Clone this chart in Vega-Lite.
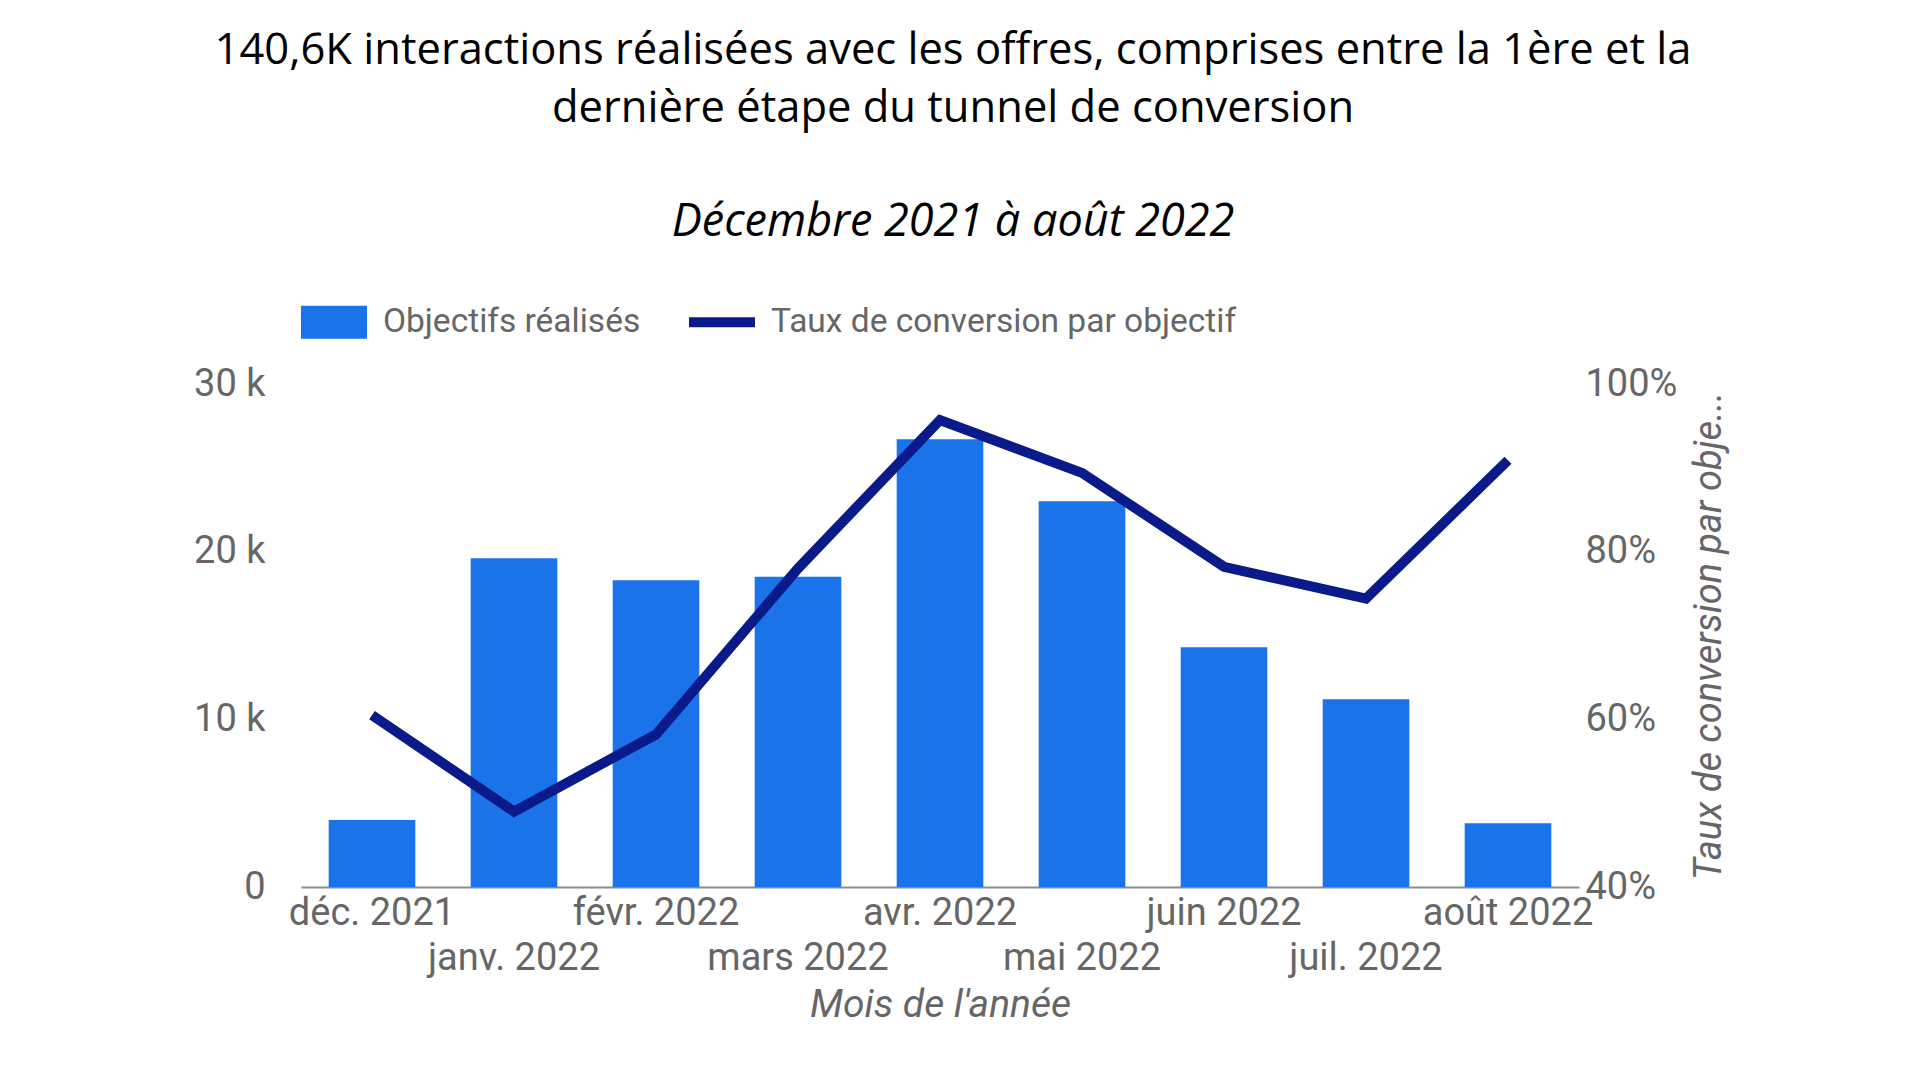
{
  "$schema": "https://vega.github.io/schema/vega-lite/v6.json",
  "width": 1278,
  "height": 503,
  "autosize": {"type": "none"},
  "padding": {"left": 301, "top": 384, "right": 341, "bottom": 193},
  "background": "white",
  "title": {
    "text": ["140,6K interactions réalisées avec les offres, comprises entre la 1ère et la", "dernière étape du tunnel de conversion"],
    "subtitle": "Décembre 2021 à août 2022",
    "frame": "group",
    "anchor": "middle",
    "dx": 13,
    "font": "Open Sans",
    "fontSize": 43.5,
    "fontWeight": "normal",
    "lineHeight": 58,
    "color": "#000000",
    "subtitleFont": "Open Sans",
    "subtitleFontSize": 45,
    "subtitleFontStyle": "italic",
    "subtitleColor": "#000000",
    "subtitlePadding": 69,
    "offset": 43
  },
  "data": {
    "values": [
      {"mois": "déc. 2021", "objectifs": 4000, "taux": 0.605},
      {"mois": "janv. 2022", "objectifs": 19600, "taux": 0.490},
      {"mois": "févr. 2022", "objectifs": 18300, "taux": 0.582},
      {"mois": "mars 2022", "objectifs": 18500, "taux": 0.780},
      {"mois": "avr. 2022", "objectifs": 26700, "taux": 0.957},
      {"mois": "mai 2022", "objectifs": 23000, "taux": 0.894},
      {"mois": "juin 2022", "objectifs": 14300, "taux": 0.782},
      {"mois": "juil. 2022", "objectifs": 11200, "taux": 0.744},
      {"mois": "août 2022", "objectifs": 3800, "taux": 0.909}
    ]
  },
  "encoding": {
    "x": {
      "field": "mois",
      "type": "ordinal",
      "sort": null,
      "scale": {"paddingInner": 0.39, "paddingOuter": 0.195},
      "axis": {
        "title": "Mois de l'année",
        "titleFont": "Roboto",
        "titleFontSize": 39,
        "titleFontStyle": "italic",
        "titleFontWeight": "normal",
        "titleColor": "#666666",
        "titlePadding": 8,
        "labelAngle": 0,
        "labelFont": "Roboto",
        "labelFontSize": 38,
        "labelColor": "#666666",
        "labelPadding": 7,
        "labelLineHeight": 45,
        "labelOverlap": false,
        "labelLimit": 0,
        "labelExpr": "indexof(['janv. 2022','mars 2022','mai 2022','juil. 2022'], datum.label) >= 0 ? ['', datum.label] : datum.label",
        "ticks": false,
        "domainColor": "#8a8a8a",
        "domainWidth": 2
      }
    }
  },
  "layer": [
    {
      "mark": {"type": "bar", "color": "#1a73e8"},
      "encoding": {
        "y": {
          "field": "objectifs",
          "type": "quantitative",
          "scale": {"domain": [0, 30000], "nice": false},
          "axis": {
            "title": null,
            "values": [0, 10000, 20000, 30000],
            "labelExpr": "datum.value == 0 ? '0' : (datum.value / 1000) + ' k'",
            "labelFont": "Roboto",
            "labelFontSize": 38,
            "labelColor": "#666666",
            "labelPadding": 36,
            "ticks": false,
            "domain": false,
            "grid": false
          }
        },
        "color": {
          "datum": "Objectifs réalisés",
          "type": "nominal",
          "scale": {"domain": ["Objectifs réalisés", "Taux de conversion par objectif"], "range": ["#1a73e8", "#0a1a8a"]},
          "legend": {
            "title": null,
            "orient": "top",
            "direction": "horizontal",
            "offset": 45,
            "labelFont": "Roboto",
            "labelFontSize": 33.5,
            "labelColor": "#666666",
            "labelOffset": 16,
            "columnPadding": 48,
            "symbolSize": 4356,
            "labelLimit": 0,
            "encode": {
              "symbols": {
                "update": {
                  "shape": {"signal": "datum.value === 'Objectifs réalisés' ? 'M-1,-0.5H1V0.5H-1Z' : 'M-1,-0.15H1V0.15H-1Z'"},
                  "fill": {"signal": "datum.value === 'Objectifs réalisés' ? '#1a73e8' : '#0a1a8a'"},
                  "stroke": {"value": "transparent"},
                  "strokeWidth": {"value": 0},
                  "opacity": {"value": 1},
                  "fillOpacity": {"value": 1}
                }
              }
            }
          }
        }
      }
    },
    {
      "mark": {"type": "line", "color": "#0a1a8a", "strokeWidth": 10, "strokeJoin": "miter"},
      "encoding": {
        "y": {
          "field": "taux",
          "type": "quantitative",
          "scale": {"domain": [0.4, 1], "nice": false},
          "axis": {
            "orient": "right",
            "title": "Taux de conversion par obje...",
            "titleAngle": 270,
            "titleFont": "Roboto",
            "titleFontSize": 38,
            "titleFontStyle": "italic",
            "titleFontWeight": "normal",
            "titleColor": "#666666",
            "titlePadding": 52,
            "values": [0.4, 0.6, 0.8, 1.0],
            "format": ".0%",
            "labelFont": "Roboto",
            "labelFontSize": 38,
            "labelColor": "#666666",
            "labelPadding": 6,
            "ticks": false,
            "domain": false,
            "grid": false
          }
        },
        "color": {"datum": "Taux de conversion par objectif", "type": "nominal"}
      }
    }
  ],
  "resolve": {"scale": {"y": "independent"}},
  "config": {"view": {"stroke": null}}
}
